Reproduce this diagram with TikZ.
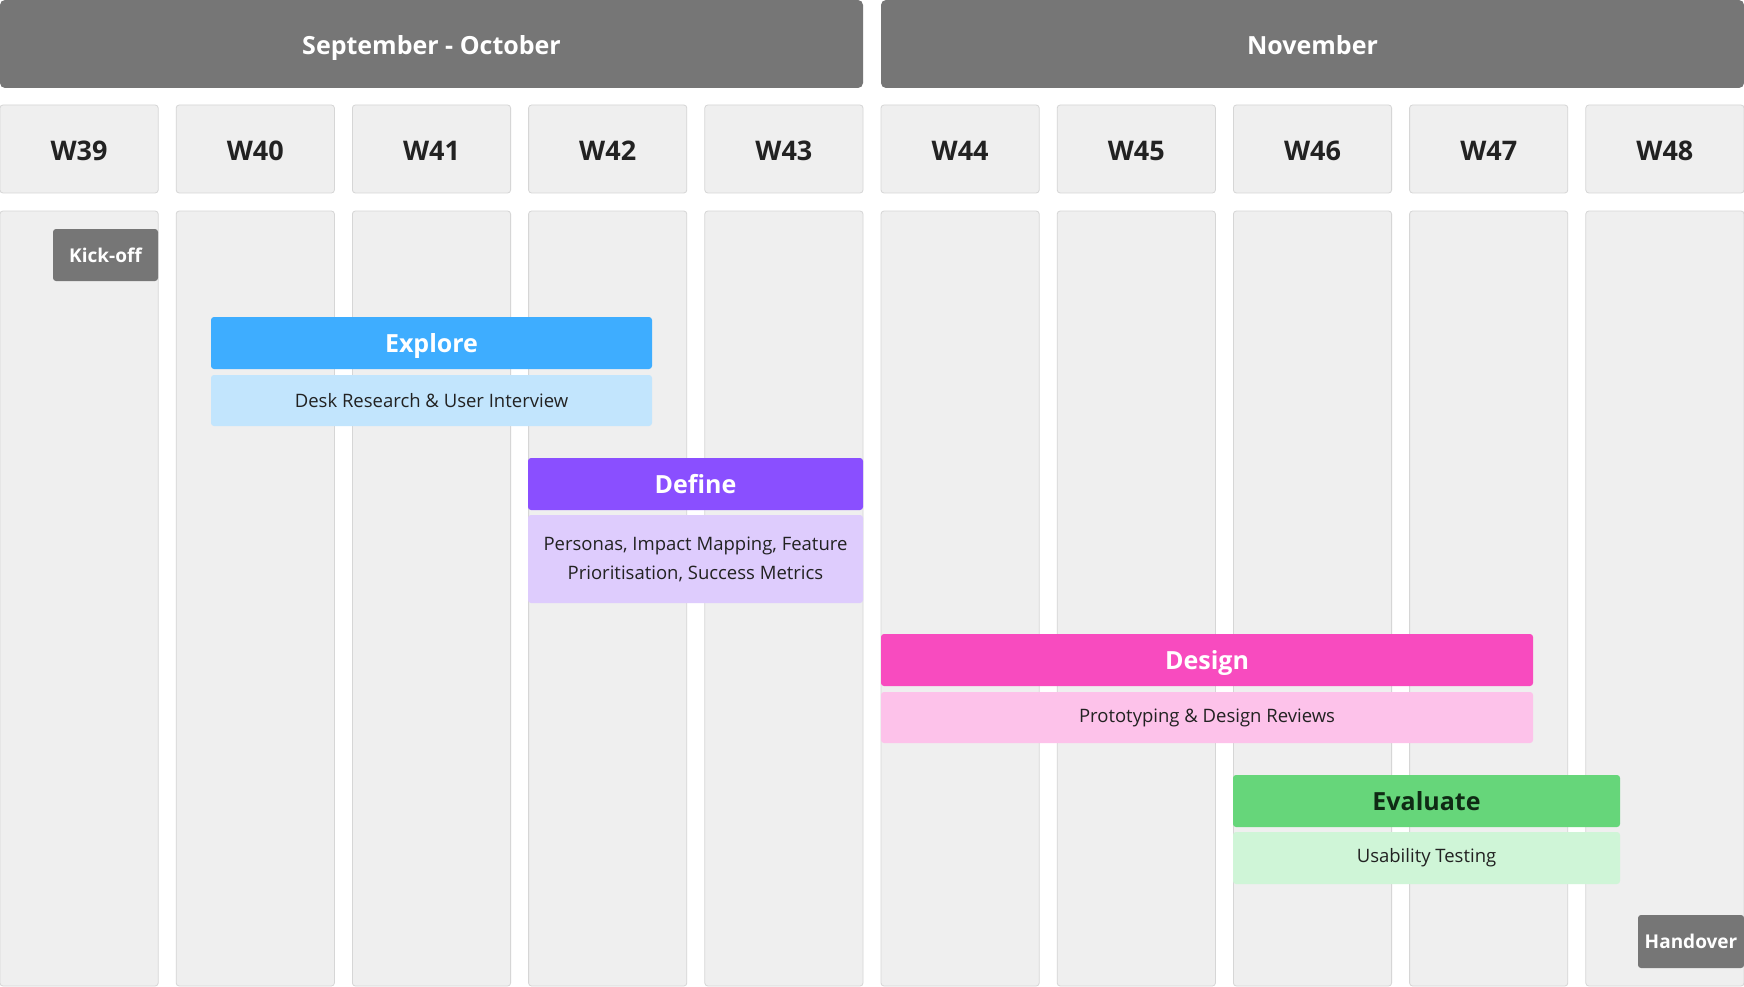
\documentclass[tikz,border=0pt]{standalone}
\usepackage{fontspec}
\setmainfont{Open Sans}
\definecolor{hdr}{HTML}{767676}
\definecolor{cell}{HTML}{EFEFEF}
\definecolor{cellline}{HTML}{D6D6D6}
\definecolor{txt}{HTML}{222222}
\definecolor{exA}{HTML}{3EADFF}
\definecolor{exB}{HTML}{C2E5FD}
\definecolor{deA}{HTML}{8A4FFF}
\definecolor{deB}{HTML}{DECCFD}
\definecolor{dsA}{HTML}{F84BBF}
\definecolor{dsB}{HTML}{FDC2EA}
\definecolor{evA}{HTML}{66D67A}
\definecolor{evB}{HTML}{CFF5D7}
\definecolor{evT}{HTML}{0F2A14}
\tikzset{
 box/.style={anchor=north west, inner sep=0pt, outer sep=0pt, rounded corners=3pt},
 month/.style={box, fill=hdr, rounded corners=5pt, text=white, text height=22pt, text depth=0pt, font=\fontsize{25}{30}\selectfont\bfseries},
 weekcell/.style={box, fill=cell, draw=cellline, line width=0.8pt, text=txt, text height=23.5pt, text depth=0pt, font=\fontsize{27}{32}\selectfont\bfseries},
 colbox/.style={box, fill=cell, draw=cellline, line width=0.8pt},
 milestone/.style={box, fill=hdr, text=white, font=\fontsize{19}{23}\selectfont\bfseries},
 phase/.style={box, text=white, text height=19pt, text depth=0pt, font=\fontsize{25}{30}\selectfont\bfseries},
 task/.style={box, text=txt, align=center, font=\fontsize{18.5}{29}\selectfont},
}
\begin{document}
\begin{tikzpicture}[x=1pt,y=-1pt]
\useasboundingbox[fill=white] (0,0) rectangle (1744,987);
% month headers
\node[month, minimum width=863pt, minimum height=88pt] (sepoct) at (0,0) {September - October};
\node[month, minimum width=863pt, minimum height=88pt] (nov) at (881,0) {November};
% week columns
\foreach \n [count=\i from 0] in {39,...,48} {
  \node[weekcell, minimum width=158.2pt, minimum height=88pt] (w\n) at ({\i*176.2},105) {W\n};
  \node[colbox, minimum width=158.2pt, minimum height=775pt] (c\n) at ({\i*176.2},211) {};
}
% milestones
\node[milestone, minimum width=105pt, minimum height=52pt] (kick) at (53,229) {Kick-off};
\node[milestone, minimum width=106pt, minimum height=53pt] (hand) at (1638,915) {Handover};
% Explore
\node[phase, fill=exA, minimum width=441pt, minimum height=52pt] (explore) at (211,317) {Explore};
\node[task, fill=exB, minimum width=441pt, minimum height=51pt] (exploreT) at (211,375) {Desk Research \& User Interview};
% Define
\node[phase, fill=deA, minimum width=335pt, minimum height=52pt] (define) at (528,458) {Define};
\node[task, fill=deB, minimum width=335pt, minimum height=88pt] (defineT) at (528,515) {Personas, Impact Mapping, Feature\\Prioritisation, Success Metrics};
% Design
\node[phase, fill=dsA, minimum width=652pt, minimum height=52pt] (design) at (881,634) {Design};
\node[task, fill=dsB, minimum width=652pt, minimum height=51pt] (designT) at (881,692) {Prototyping \& Design Reviews};
% Evaluate
\node[phase, fill=evA, text=evT, minimum width=387pt, minimum height=52pt] (evaluate) at (1233,775) {Evaluate};
\node[task, fill=evB, minimum width=387pt, minimum height=52pt] (evaluateT) at (1233,832) {Usability Testing};
\end{tikzpicture}
\end{document}
